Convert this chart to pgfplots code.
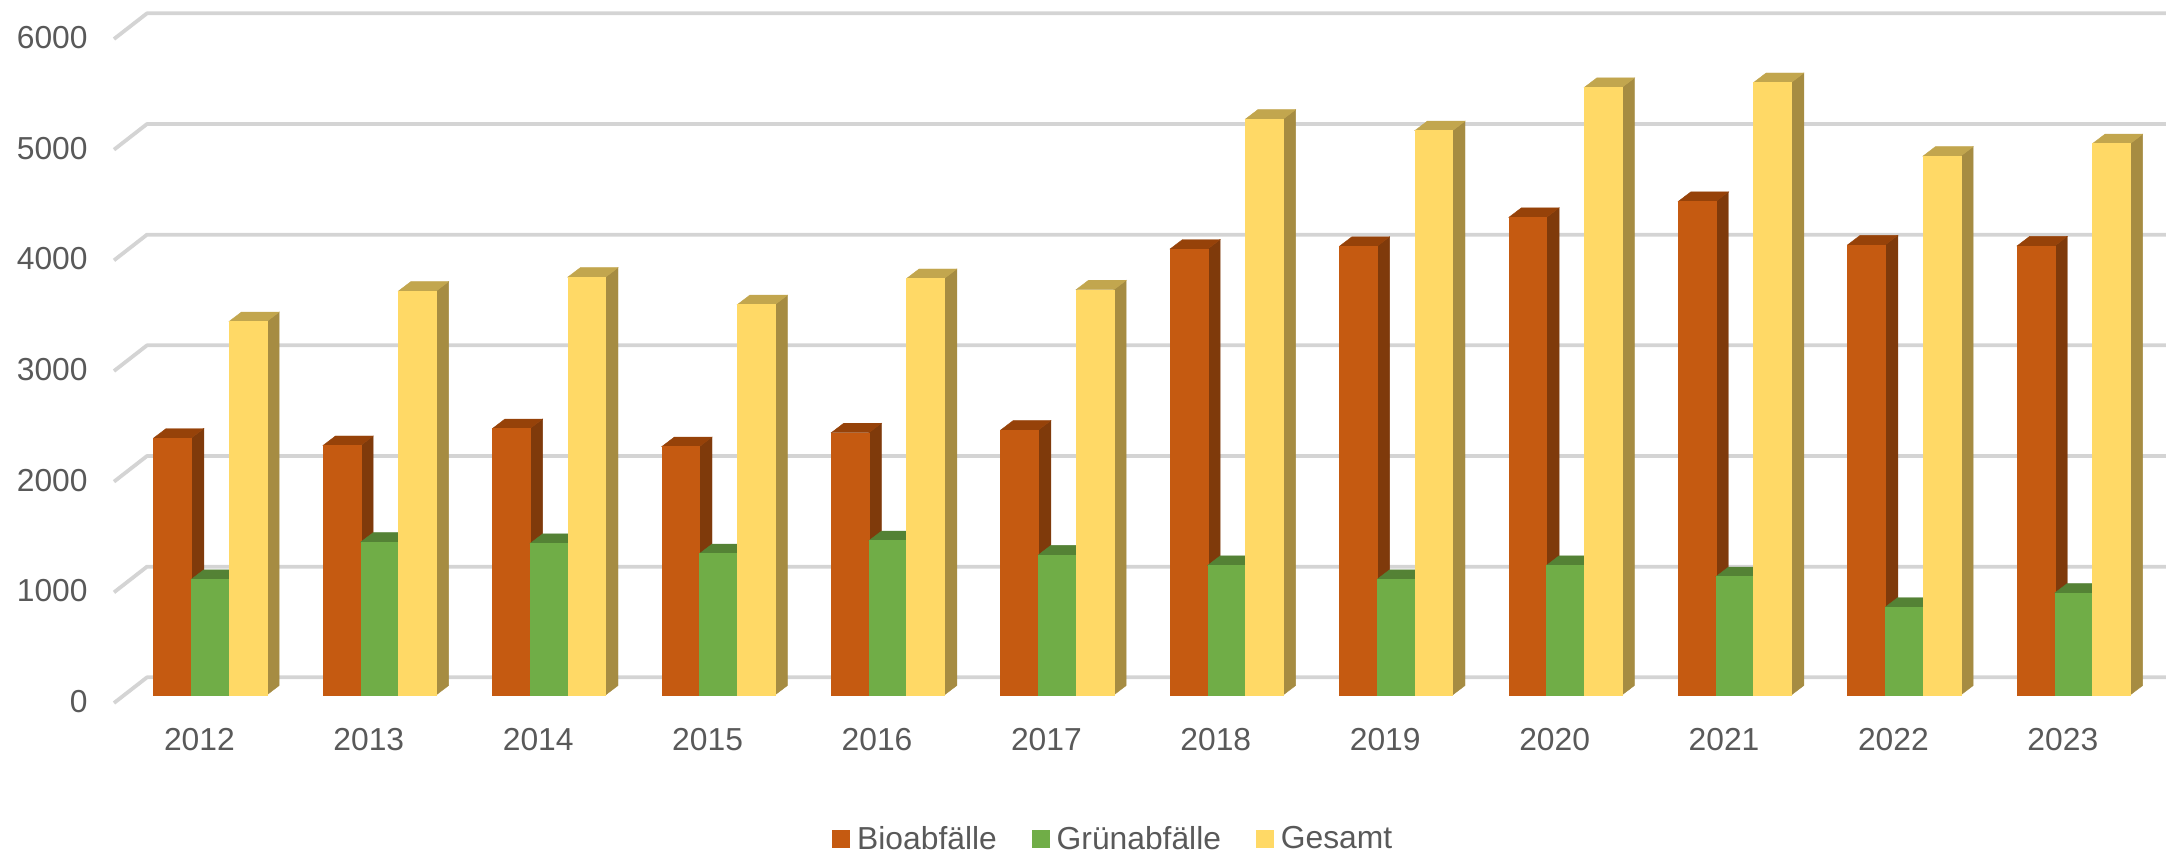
\documentclass[border=0pt]{standalone}
\usepackage{fontspec}
\setmainfont{Liberation Sans}
\usepackage{pgfplots}
\usepackage{pgfplotstable}
\pgfplotsset{compat=1.18}
\definecolor{txt}{HTML}{595959}
\definecolor{gridc}{HTML}{D4D4D4}
\definecolor{bioF}{HTML}{C55A11}
\definecolor{bioS}{HTML}{7F3A0B}
\definecolor{bioT}{HTML}{964209}
\definecolor{grnF}{HTML}{70AD47}
\definecolor{grnS}{HTML}{42682A}
\definecolor{grnT}{HTML}{548235}
\definecolor{gesF}{HTML}{FFD966}
\definecolor{gesS}{HTML}{A68C42}
\definecolor{gesT}{HTML}{C2A64E}
\pgfplotstableread{
idx year bio green gesamt
0 2012 2322 1046 3375
1 2013 2255 1382 3650
2 2014 2408 1370 3776
3 2015 2245 1278 3527
4 2016 2370 1395 3764
5 2017 2394 1266 3662
6 2018 4030 1172 5204
7 2019 4055 1046 5100
8 2020 4316 1172 5490
9 2021 4460 1070 5535
10 2022 4068 795 4870
11 2023 4058 922 4982
}\datatable
% one 3-D bar: #1 category, #2 position in cluster, #3 value, #4 front/side/top colour prefix
\newcommand{\threeD}[4]{%
  \pgfmathsetmacro{\xa}{#1+(#2-1.5)*0.2225+0.001}%
  \pgfmathsetmacro{\xb}{\xa+0.2225}%
  \pgfmathsetmacro{\xc}{\xa+0.0738}%
  \pgfmathsetmacro{\xd}{\xb+0.0738}%
  \pgfmathsetmacro{\ya}{72.3}%
  \pgfmathsetmacro{\yb}{#3+72.3}%
  \pgfmathsetmacro{\yc}{\ya+85.8}%
  \pgfmathsetmacro{\yd}{\yb+85.8}%
  \addplot[forget plot,draw=#4S,line width=0.2pt,fill=#4S] coordinates {(\xb,\ya)(\xd,\yc)(\xd,\yd)(\xb,\yb)} --cycle;
  \addplot[forget plot,draw=#4T,line width=0.2pt,fill=#4T] coordinates {(\xa,\yb)(\xb,\yb)(\xd,\yd)(\xc,\yd)} --cycle;
  \addplot[forget plot,draw=#4F,line width=0.2pt,fill=#4F] coordinates {(\xa,\ya)(\xb,\ya)(\xb,\yb)(\xa,\yb)} --cycle;
}
\newcommand{\gridline}[1]{%
  \pgfmathsetmacro{\yt}{#1+232}%
  \addplot[forget plot,draw=gridc,line width=1.9pt,line join=round] coordinates {(-0.5667,#1)(-0.3719,\yt)(11.5467,\yt)};
}
\begin{document}
\begin{tikzpicture}
\useasboundingbox (0,0) rectangle (1083pt,426.5pt);
\begin{axis}[
  at={(57pt,75pt)},anchor=south west,
  scale only axis,width=1026pt,height=332pt,
  xmin=-0.5667,xmax=11.5467,ymin=0,ymax=6000,
  clip=false,
  axis line style={draw=none},
  major tick length=0pt,
  tick style={draw=none},
  xtick={0,1,2,3,4,5,6,7,8,9,10,11},
  xticklabels={2012,2013,2014,2015,2016,2017,2018,2019,2020,2021,2022,2023},
  ytick={0,1000,2000,3000,4000,5000,6000},
  yticklabels={0,1000,2000,3000,4000,5000,6000},
  tick label style={font=\fontsize{15.9}{18}\selectfont,text=txt,inner sep=0pt},
  xticklabel style={anchor=north,xshift=-5.3pt,yshift=-12.3pt},
  yticklabel style={anchor=east,xshift=-13pt,yshift=0.8pt},
  legend columns=-1,
  legend cell align=left,
  legend style={at={(0.4865,-0.2048)},anchor=center,draw=none,fill=none,inner sep=0pt,
    font=\fontsize{15.9}{18}\selectfont,text=txt,
    /tikz/every even column/.append style={column sep=17.5pt},
    nodes={inner sep=0pt,outer sep=0pt}},
  legend image code/.code={\fill[#1] (0pt,-4.25pt) rectangle (8.5pt,4.25pt);},
]
\pgfplotsinvokeforeach{0,1000,2000,3000,4000,5000,6000}{\gridline{#1}}
\pgfplotsinvokeforeach{0,...,11}{%
  \pgfplotstablegetelem{#1}{bio}\of\datatable\let\vA\pgfplotsretval
  \pgfplotstablegetelem{#1}{green}\of\datatable\let\vB\pgfplotsretval
  \pgfplotstablegetelem{#1}{gesamt}\of\datatable\let\vC\pgfplotsretval
  \threeD{#1}{0}{\vA}{bio}
  \threeD{#1}{1}{\vB}{grn}
  \threeD{#1}{2}{\vC}{ges}
}
\addlegendimage{bioF}\addlegendentry{\hspace{3.5pt}Bioabfälle}
\addlegendimage{grnF}\addlegendentry{\hspace{3.5pt}Grünabfälle}
\addlegendimage{gesF}\addlegendentry{\hspace{3.5pt}Gesamt}
\end{axis}
\end{tikzpicture}
\end{document}
